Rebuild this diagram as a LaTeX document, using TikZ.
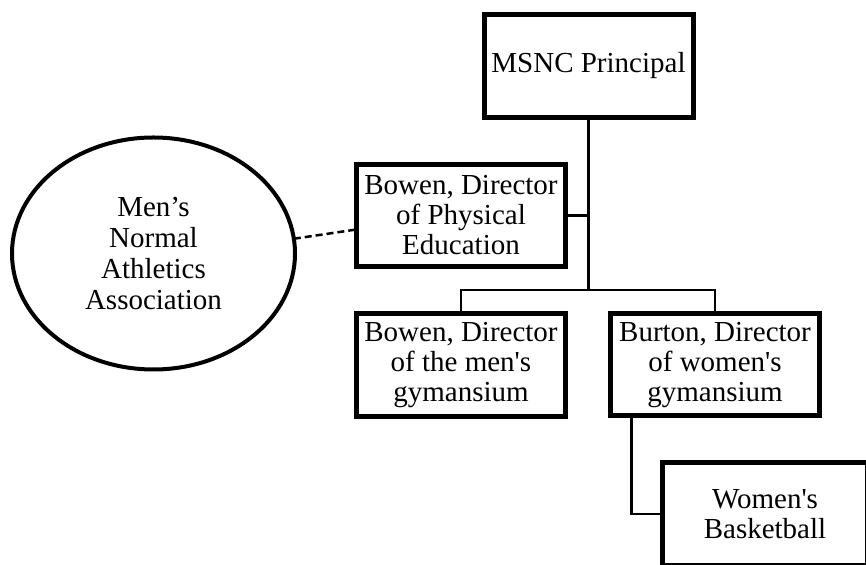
\documentclass[tikz,border=0pt]{standalone}
\usepackage{fontspec}
\setmainfont{Liberation Serif}[Ligatures=TeXOff]
\usepackage{tikz}
\usetikzlibrary{positioning, shapes.geometric}

\begin{document}
\begin{tikzpicture}[
  x=1pt, y=1pt,
  node distance=47pt,
  box/.style={draw, line width=5pt, minimum width=209pt, minimum height=102pt,
              inner sep=2pt, outer sep=0pt, align=center,
              font=\fontsize{29}{30}\selectfont},
  club/.style={draw, ellipse, line width=4pt, minimum width=283pt, minimum height=232pt,
               inner sep=0pt, outer sep=0pt, align=center,
               font=\fontsize{29}{31}\selectfont},
  conn/.style={line width=2.5pt},
  link/.style={line width=2.5pt, dash pattern=on 7pt off 4pt}
]
  \useasboundingbox (0,0) rectangle (866,564);
  \clip (0,0) rectangle (866,564);

  % Top - principal
  \node[box, minimum height=103pt] (principal) at (588.5,498) {MSNC Principal};

  % Physical education and the association beside it
  \node[box, below=47pt of principal.south, xshift=-127.5pt] (pe)
    {Bowen, Director\\of Physical\\Education};
  \node[club, left=61.5pt of pe, yshift=-38pt] (assoc)
    {Men’s\\Normal\\Athletics\\Association};

  % Gymnasiums
  \node[box, minimum height=103pt, below=of pe] (mengym)
    {Bowen, Director\\of the men's\\gymansium};
  \node[box, right=45pt of mengym] (womengym)
    {Burton, Director\\of women's\\gymansium};

  % Basketball
  \node[box, minimum width=205pt, minimum height=103pt,
        below=46.5pt of womengym.south west, anchor=north west, xshift=52pt]
    (basket) {Women's\\Basketball};

  % Lines
  \path (pe.south) -- (mengym.north) coordinate[midway] (mid);
  \coordinate (fork) at (principal.south |- mid);
  \draw[conn] (principal.south) -- (fork);
  \draw[conn] (pe.east) -- (pe.east -| fork);
  \draw[conn] (mengym.north) -- (mengym.north |- fork) -- (womengym.north |- fork)
    -- (womengym.north);
  \draw[conn] ([xshift=21pt]womengym.south west) |- (basket.west);
  \draw[link] (assoc.6) -- ([yshift=-14pt]pe.west);
\end{tikzpicture}
\end{document}
